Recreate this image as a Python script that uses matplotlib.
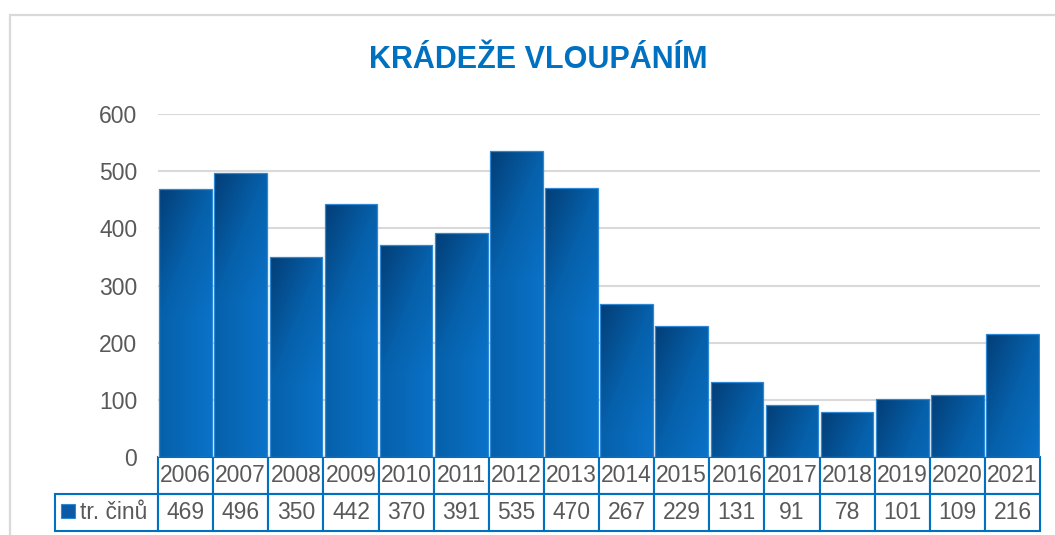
import matplotlib
matplotlib.use('Agg')
import matplotlib.pyplot as plt
import numpy as np
from matplotlib.colors import LinearSegmentedColormap
from matplotlib.patches import Rectangle

years = ['2006', '2007', '2008', '2009', '2010', '2011', '2012', '2013',
         '2014', '2015', '2016', '2017', '2018', '2019', '2020', '2021']
cases = [469, 496, 350, 442, 370, 391, 535, 470, 267, 229, 131, 91, 78, 101, 109, 216]
series_label = 'tr. činů'
title = 'KRÁDEŽE VLOUPÁNÍM'
yticks = [0, 100, 200, 300, 400, 500, 600]

plt.rcParams['font.family'] = ['Liberation Sans', 'DejaVu Sans']

grey = '#595959'
blue = '#0070c0'
cmap = LinearSegmentedColormap.from_list('bar', ['#033e77', '#0660aa', '#0a72c8'])

fig = plt.figure(figsize=(10.55, 5.35), dpi=100)
ax = fig.add_axes([0.1498, 0.1458, 0.8360, 0.6411])

# chart area frame
fig.patches.append(Rectangle((0.0095, -0.1), 1.2, 0.1 + 0.972, transform=fig.transFigure,
                             fill=False, edgecolor='#d9d9d9', linewidth=1.6))

x = np.arange(len(years))
bars = ax.bar(x, cases, width=0.955, color='none', edgecolor='#2f88d6', linewidth=0.9, zorder=3)

# gradient fill: darker on the left and near the top, clipped to each bar
px_per_unit = 343 / 600
u = np.linspace(0, 1, 40)
for b in bars:
    x0, h = b.get_x(), b.get_height()
    depth = np.linspace(0, h, 200) * px_per_unit
    uu, dd = np.meshgrid(u, depth)
    grad = 0.5 * uu + 0.5 * np.clip(dd / 130, 0, 1)
    im = ax.imshow(grad, cmap=cmap, vmin=0, vmax=1, aspect='auto', origin='upper',
                   extent=[x0, x0 + b.get_width(), 0, h], zorder=2)
    im.set_clip_path(b)

ax.set_xlim(-0.5, len(years) - 0.5)
ax.set_ylim(0, 600)
ax.set_yticks(yticks)
ax.set_xticks([])
ax.tick_params(axis='y', length=0, pad=15, labelsize=16.5, labelcolor=grey)
ax.grid(axis='y', color='#d9d9d9', linewidth=1.5, zorder=0)
ax.set_axisbelow(True)
for s in ax.spines.values():
    s.set_visible(False)

# data table under the plot
lab_w = 103 / 882
col_w = 1 / len(years)
tbl = ax.table(cellText=[[series_label] + [str(c) for c in cases]],
               colLabels=[''] + years,
               colWidths=[lab_w] + [col_w] * len(years),
               cellLoc='center',
               bbox=[-lab_w, -0.2157, 1 + lab_w, 0.2157])
tbl.auto_set_font_size(False)
tbl.set_fontsize(16.5)
for (r, c), cell in tbl.get_celld().items():
    cell.set_edgecolor(blue)
    cell.set_linewidth(1.5)
    cell.get_text().set_color(grey)
    if r == 0 and c == 0:
        cell.visible_edges = ''
    if r == 1 and c == 0:
        cell._loc = 'right'
        cell.get_text().set_ha('right')

# legend key inside the table
ax.add_patch(Rectangle((-0.1100, -0.178), 0.0159, 0.041, transform=ax.transAxes,
                       facecolor='#0a5aa6', edgecolor='#2f88d6', linewidth=0.8, clip_on=False))

fig.text(0.51, 0.888, title, ha='center', va='center', fontsize=22,
         fontweight='bold', color=blue)

fig.savefig('out.png', dpi=100)
